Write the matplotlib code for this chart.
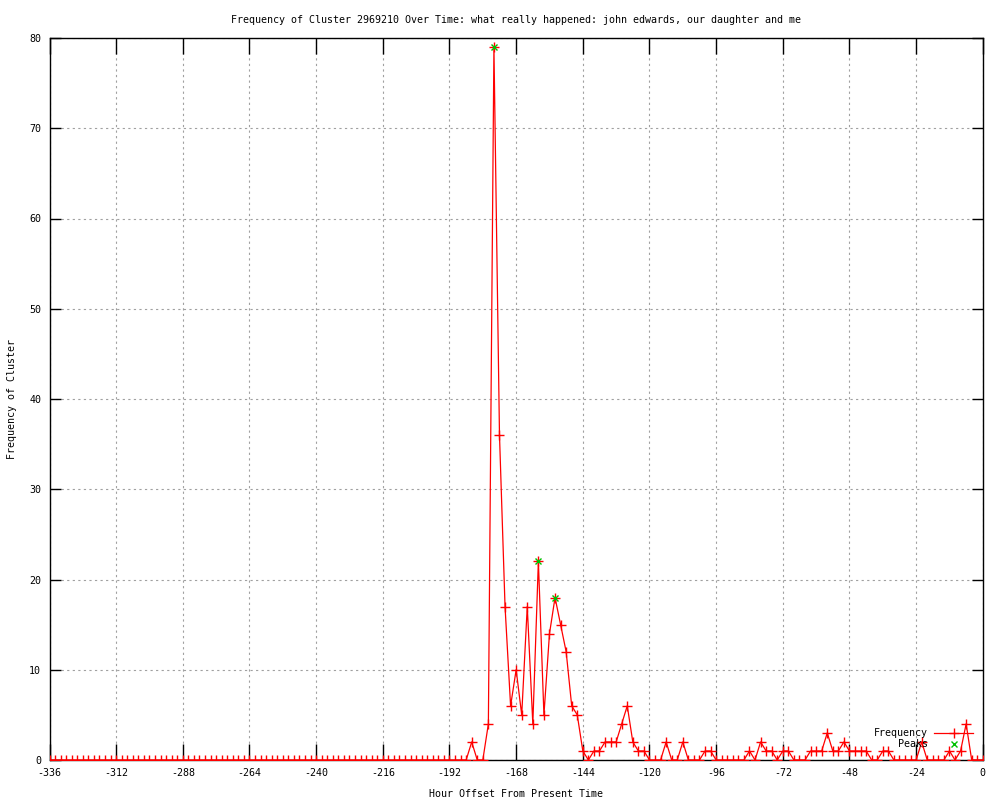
import numpy as np
import matplotlib
matplotlib.use('Agg')
import matplotlib.pyplot as plt

# hour offsets -336..0, every 2 hours
hours = list(range(-336, 1, 2))

# non-zero frequencies (hour -> count), all others are 0
nonzero = {
    -184: 2, -178: 4, -176: 79, -174: 36, -172: 17, -170: 6, -168: 10,
    -166: 5, -164: 17, -162: 4, -160: 22, -158: 5, -156: 14, -154: 18,
    -152: 15, -150: 12, -148: 6, -146: 5, -144: 1, -140: 1, -138: 1,
    -136: 2, -134: 2, -132: 2, -130: 4, -128: 6, -126: 2, -124: 1,
    -122: 1, -114: 2, -108: 2, -100: 1, -98: 1, -84: 1, -80: 2, -78: 1,
    -76: 1, -72: 1, -70: 1, -62: 1, -60: 1, -58: 1, -56: 3, -54: 1,
    -52: 1, -50: 2, -48: 1, -46: 1, -44: 1, -42: 1, -36: 1, -34: 1,
    -22: 2, -12: 1, -8: 1, -6: 4,
}
freq = [nonzero.get(h, 0) for h in hours]

peak_hours = [-176, -160, -154]
peak_vals = [79, 22, 18]

x_ticks = list(range(-336, 1, 24))
y_ticks = list(range(0, 81, 10))

title = ('Frequency of Cluster 2969210 Over Time: what really happened: '
         'john edwards, our daughter and me')

plt.rcParams['font.family'] = ['DejaVu Sans Mono']
plt.rcParams['font.size'] = 7.2
plt.rcParams['axes.unicode_minus'] = False

fig = plt.figure(figsize=(10, 8), dpi=100)
ax = fig.add_axes([0.0495, 0.05, 0.9333, 0.9025])

ax.plot(hours, freq, color='#ff0000', lw=0.9, marker='+', ms=6.5,
        mew=1.0, label='Frequency', zorder=3)
ax.plot(peak_hours, peak_vals, ls='none', color='#00c000', marker='x',
        ms=5, mew=1.0, label='Peaks', zorder=4)

ax.set_xlim(-336, 0)
ax.set_ylim(0, 80)
ax.set_xticks(x_ticks)
ax.set_yticks(y_ticks)
ax.tick_params(axis='x', direction='in', length=11.5, width=1.0,
               top=True, pad=6)
ax.tick_params(axis='y', direction='in', length=8, width=1.0,
               right=True, pad=6)
ax.grid(True, color='#a0a0a0', ls=(0, (2, 3)), lw=0.8)
for s in ax.spines.values():
    s.set_linewidth(1.0)

ax.set_title(title, fontsize=7.2, pad=11)
ax.set_xlabel('Hour Offset From Present Time', labelpad=7.5)
ax.set_ylabel('Frequency of Cluster', labelpad=9)

ax.legend(loc='lower right', bbox_to_anchor=(0.997, 0.005), frameon=False,
          markerfirst=False, handlelength=3.9, handletextpad=0.6,
          labelspacing=0.1, borderaxespad=0.3, fontsize=7.2)

fig.savefig('out.png', dpi=100)
